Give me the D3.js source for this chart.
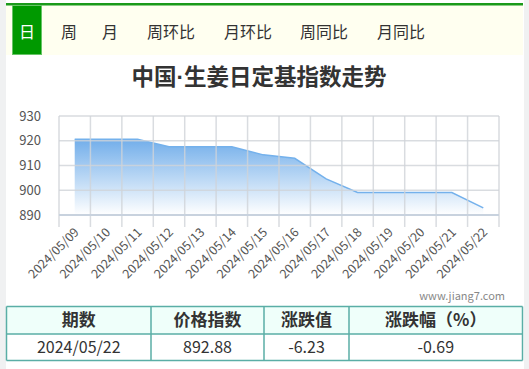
<!DOCTYPE html>
<html>
<head>
<meta charset="utf-8">
<script src="https://cdn.jsdelivr.net/npm/d3@7"></script>
<style>
  html, body { margin: 0; padding: 0; background: #f0f1f2; }
  svg { display: block; }
  text { font-family: "Noto Sans CJK SC", "Noto Sans", sans-serif; }
</style>
</head>
<body>
<svg id="chart" width="529" height="369"></svg>
<script>
// tabs on top
var tabs = ['日', '周', '月', '周环比', '月环比', '周同比', '月同比'];
var tabX = [27, 69, 110, 171, 248, 324, 401];

// series
var dates = ['2024/05/09', '2024/05/10', '2024/05/11', '2024/05/12', '2024/05/13', '2024/05/14', '2024/05/15',
             '2024/05/16', '2024/05/17', '2024/05/18', '2024/05/19', '2024/05/20', '2024/05/21', '2024/05/22'];
var values = [920.6, 920.6, 920.6, 917.6, 917.6, 917.6, 914.3,
              912.9, 904.6, 899.11, 899.11, 899.11, 899.11, 892.88];
var yTicks = [890, 900, 910, 920, 930];

// table
var tableHead = ['期数', '价格指数', '涨跌值', '涨跌幅（%）'];
var tableRow = ['2024/05/22', '892.88', '-6.23', '-0.69'];

var svg = d3.select('#chart');

// white page body
svg.append('rect')
  .attr('x', 6).attr('y', 0)
  .attr('width', 518).attr('height', 369)
  .attr('fill', '#ffffff');

// tab bar
svg.append('rect')
  .attr('x', 6).attr('y', 5)
  .attr('width', 517).attr('height', 50)
  .attr('fill', '#fffff0');
svg.append('rect')
  .attr('x', 6).attr('y', 3)
  .attr('width', 517).attr('height', 2.5)
  .attr('fill', '#1a9a1a');
svg.append('rect')
  .attr('x', 12.5).attr('y', 5.5)
  .attr('width', 29).attr('height', 49)
  .attr('fill', '#009900')
  .attr('stroke', '#66c466')
  .attr('stroke-width', 1);

svg.selectAll('.tab')
  .data(tabs)
  .enter()
  .append('text')
  .attr('class', 'tab')
  .attr('x', function(d, i) { return tabX[i]; })
  .attr('y', 38)
  .attr('text-anchor', 'middle')
  .attr('font-size', '16px')
  .attr('fill', function(d, i) { return i == 0 ? '#ffffff' : '#333333'; })
  .text(function(d) { return d; });

// title (narrow middle dot like the original font)
var title = svg.append('text')
  .attr('x', 259)
  .attr('y', 85)
  .attr('text-anchor', 'middle')
  .attr('font-size', '22.5px')
  .attr('font-weight', 'bold')
  .attr('fill', '#333333');
title.append('tspan').text('中国');
title.append('tspan').attr('font-family', '"Liberation Sans", sans-serif').text('·');
title.append('tspan').text('生姜日定基指数走势');

// scales
var x = d3.scaleBand().domain(dates).range([59, 499]).padding(0);
var y = d3.scaleLinear().domain([890, 930]).range([215, 116]);

// gradient
var defs = svg.append('defs');
var grad = defs.append('linearGradient')
  .attr('id', 'fillGrad')
  .attr('x1', 0).attr('y1', 0).attr('x2', 0).attr('y2', 1);
grad.append('stop').attr('offset', '0%').attr('stop-color', '#72aeea');
grad.append('stop').attr('offset', '100%').attr('stop-color', '#ffffff');

var pts = dates.map(function(d, i) { return { date: d, value: values[i] }; });

var area = d3.area()
  .x(function(d) { return x(d.date) + x.bandwidth() / 2; })
  .y0(y(890))
  .y1(function(d) { return y(d.value); });

var line = d3.line()
  .x(function(d) { return x(d.date) + x.bandwidth() / 2; })
  .y(function(d) { return y(d.value); });

svg.append('path')
  .datum(pts)
  .attr('d', area)
  .attr('fill', 'url(#fillGrad)');

svg.append('path')
  .datum(pts)
  .attr('d', line)
  .attr('fill', 'none')
  .attr('stroke', '#74b1ec')
  .attr('stroke-width', 1.5);

// grid lines (drawn over the fill, like the reference)
svg.selectAll('.hgrid')
  .data(yTicks.slice(1))
  .enter()
  .append('line')
  .attr('class', 'hgrid')
  .attr('x1', 59).attr('x2', 499)
  .attr('y1', function(d) { return y(d); })
  .attr('y2', function(d) { return y(d); })
  .attr('stroke', '#cfd3d8')
  .attr('stroke-opacity', 0.8)
  .attr('stroke-width', 1.5);

var bounds = dates.map(function(d) { return x(d); }).concat([499]);
svg.selectAll('.vgrid')
  .data(bounds)
  .enter()
  .append('line')
  .attr('class', 'vgrid')
  .attr('x1', function(d) { return d; })
  .attr('x2', function(d) { return d; })
  .attr('y1', 116).attr('y2', 227)
  .attr('stroke', '#cfd3d8')
  .attr('stroke-opacity', 0.8)
  .attr('stroke-width', 1.5);

// x axis line
svg.append('line')
  .attr('x1', 59).attr('x2', 499)
  .attr('y1', y(890)).attr('y2', y(890))
  .attr('stroke', '#c8d2de')
  .attr('stroke-width', 2);

// y labels
svg.selectAll('.ylab')
  .data(yTicks)
  .enter()
  .append('text')
  .attr('class', 'ylab')
  .attr('x', 41)
  .attr('y', function(d) { return y(d) + 4.5; })
  .attr('text-anchor', 'end')
  .attr('font-family', '"Liberation Sans", sans-serif')
  .attr('font-size', '13px')
  .attr('fill', '#555555')
  .text(function(d) { return d; });

// x labels
svg.selectAll('.xlab')
  .data(dates)
  .enter()
  .append('text')
  .attr('class', 'xlab')
  .attr('transform', function(d) {
    return 'translate(' + (x(d) + x.bandwidth() / 2 + 5) + ',' + 233 + ') rotate(-45)';
  })
  .attr('text-anchor', 'end')
  .attr('font-family', '"Liberation Sans", sans-serif')
  .attr('font-size', '12.5px')
  .attr('fill', '#555555')
  .text(function(d) { return d; });

// watermark
svg.append('text')
  .attr('x', 505)
  .attr('y', 300)
  .attr('text-anchor', 'end')
  .attr('font-family', '"Liberation Sans", sans-serif')
  .attr('font-size', '11px')
  .attr('fill', '#888888')
  .text('www.jiang7.com');

// table
var colEdges = [6.5, 151, 264, 349, 522.5];
var rowEdges = [306.5, 334, 360.5];

svg.append('rect')
  .attr('x', colEdges[0]).attr('y', rowEdges[0])
  .attr('width', colEdges[4] - colEdges[0]).attr('height', rowEdges[1] - rowEdges[0])
  .attr('fill', '#effffa');

svg.selectAll('.hline')
  .data(rowEdges)
  .enter()
  .append('line')
  .attr('x1', colEdges[0]).attr('x2', colEdges[4])
  .attr('y1', function(d) { return d; })
  .attr('y2', function(d) { return d; })
  .attr('stroke', '#5aaea6')
  .attr('stroke-width', 1.5);

svg.selectAll('.vline')
  .data(colEdges)
  .enter()
  .append('line')
  .attr('x1', function(d) { return d; })
  .attr('x2', function(d) { return d; })
  .attr('y1', rowEdges[0]).attr('y2', rowEdges[2])
  .attr('stroke', '#5aaea6')
  .attr('stroke-width', 1.5);

svg.selectAll('.thead')
  .data(tableHead)
  .enter()
  .append('text')
  .attr('x', function(d, i) { return (colEdges[i] + colEdges[i + 1]) / 2; })
  .attr('y', 326)
  .attr('text-anchor', 'middle')
  .attr('font-size', '17px')
  .attr('font-weight', 'bold')
  .attr('fill', '#333333')
  .text(function(d) { return d; });

svg.selectAll('.tcell')
  .data(tableRow)
  .enter()
  .append('text')
  .attr('x', function(d, i) { return (colEdges[i] + colEdges[i + 1]) / 2; })
  .attr('y', 353)
  .attr('text-anchor', 'middle')
  .attr('font-size', '16px')
  .attr('fill', '#333333')
  .text(function(d) { return d; });
</script>
</body>
</html>
